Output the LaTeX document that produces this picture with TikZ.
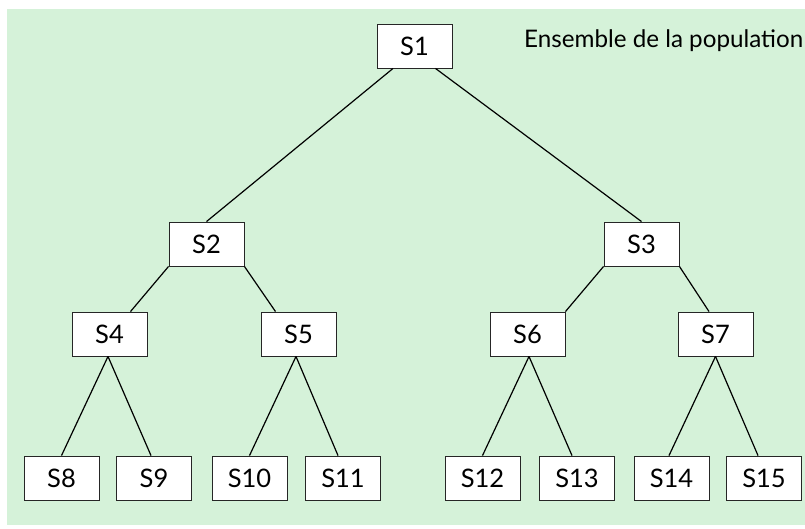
\documentclass[tikz,border=0pt]{standalone}
\usepackage{fontspec}
\setmainfont{Lato}
\definecolor{bggreen}{RGB}{213,242,217}
\begin{document}
\begin{tikzpicture}[x=1pt,y=-1pt,
  box/.style={draw=black!85, fill=white, line width=0.9pt, minimum width=75pt, minimum height=44pt, inner sep=0pt, font=\fontsize{25.5}{30}\selectfont},
  edge/.style={draw=black, line width=1.2pt}]
\useasboundingbox (0,0) rectangle (805,528);
\fill[bggreen] (7,9) rectangle (805,525);
\node[box] (s1) at (414.5,46) {S1};
\node[box] (s2) at (206.5,244) {S2};
\node[box] (s3) at (641.5,244) {S3};
\node[box] (s4) at (109.5,334) {S4};
\node[box] (s5) at (298.5,334) {S5};
\node[box] (s6) at (527.5,334) {S6};
\node[box] (s7) at (715.5,334) {S7};
\node[box] (s8) at (61.5,478) {S8};
\node[box] (s9) at (154,478) {S9};
\node[box] (s10) at (249.5,478) {S10};
\node[box] (s11) at (343,478) {S11};
\node[box] (s12) at (482.5,478) {S12};
\node[box] (s13) at (577,478) {S13};
\node[box] (s14) at (671.5,478) {S14};
\node[box] (s15) at (764,478) {S15};
\node[anchor=west, inner sep=0pt, font=\fontsize{24.2}{28}\selectfont] (title) at (524,41) {Ensemble de la population};
\draw[edge] ([xshift=-21.5pt]s1.south) -- (s2.north);
\draw[edge] ([xshift=21pt]s1.south) -- (s3.north);
\draw[edge] (s2.south west) -- ([xshift=21pt]s4.north);
\draw[edge] (s2.south east) -- ([xshift=-23pt]s5.north);
\draw[edge] (s3.south west) -- (s6.north east);
\draw[edge] (s3.south east) -- ([xshift=-6.5pt]s7.north);
\draw[edge] ([xshift=-1.5pt]s4.south) -- (s8.north);
\draw[edge] ([xshift=-1.5pt]s4.south) -- ([xshift=-3pt]s9.north);
\draw[edge] ([xshift=-2.5pt]s5.south) -- (s10.north);
\draw[edge] ([xshift=-2.5pt]s5.south) -- ([xshift=-5pt]s11.north);
\draw[edge] ([xshift=1.5pt]s6.south) -- (s12.north);
\draw[edge] ([xshift=1.5pt]s6.south) -- ([xshift=-5pt]s13.north);
\draw[edge] (s7.south) -- ([xshift=-2.5pt]s14.north);
\draw[edge] (s7.south) -- ([xshift=-6pt]s15.north);
\end{tikzpicture}
\end{document}
